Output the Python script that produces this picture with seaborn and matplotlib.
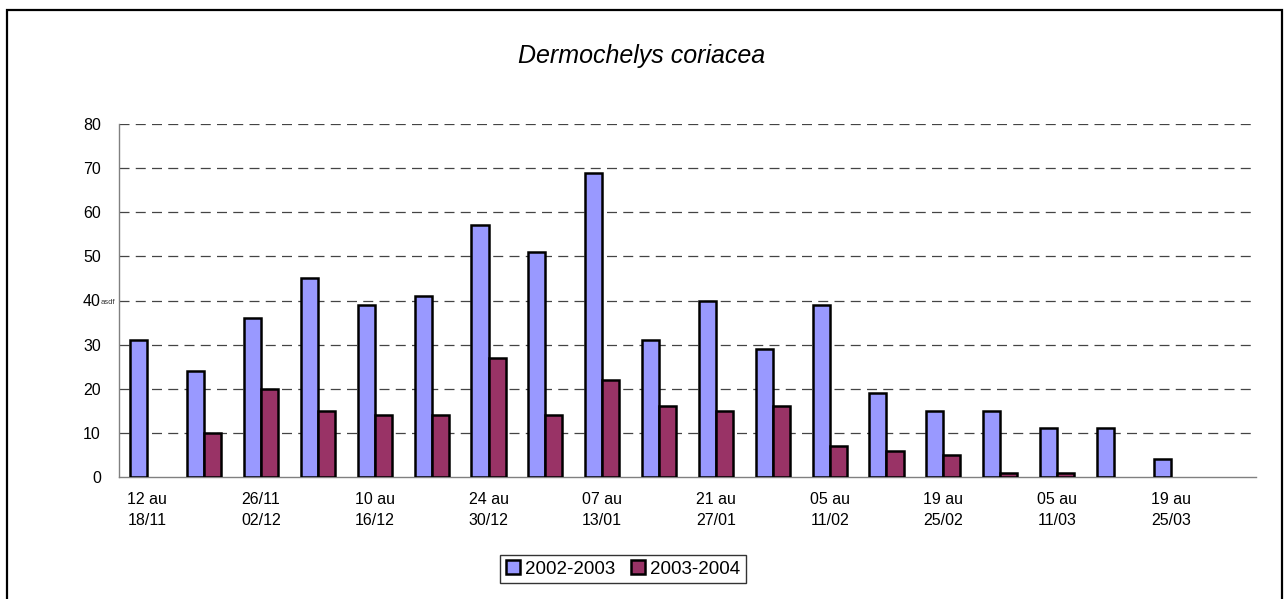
import matplotlib
matplotlib.use('Agg')
import matplotlib.pyplot as plt
from matplotlib.patches import Rectangle
import seaborn as sns
import pandas as pd
import numpy as np

# weeks (one category each), two seasons
semaines = ['12 au 18/11', '19 au 25/11', '26/11 02/12', '03 au 09/12', '10 au 16/12',
            '17 au 23/12', '24 au 30/12', '31/12 06/01', '07 au 13/01', '14 au 20/01',
            '21 au 27/01', '28/01 04/02', '05 au 11/02', '12 au 18/02', '19 au 25/02',
            '26/02 04/03', '05 au 11/03', '12 au 18/03', '19 au 25/03', '26/03 01/04']
tick_labels = ['12 au\n18/11', '', '26/11\n02/12', '', '10 au\n16/12', '', '24 au\n30/12', '',
               '07 au\n13/01', '', '21 au\n27/01', '', '05 au\n11/02', '', '19 au\n25/02', '',
               '05 au\n11/03', '', '19 au\n25/03', '']
saison_1 = [31, 24, 36, 45, 39, 41, 57, 51, 69, 31, 40, 29, 39, 19, 15, 15, 11, 11, 4, np.nan]
saison_2 = [np.nan, 10, 20, 15, 14, 14, 27, 14, 22, 16, 15, 16, 7, 6, 5, 1, 1, np.nan, np.nan, np.nan]
saisons = ['2002-2003', '2003-2004']
couleurs = ['#9999FF', '#993366']

df = pd.DataFrame({
    'semaine': semaines * 2,
    'nombre': saison_1 + saison_2,
    'saison': [saisons[0]] * len(semaines) + [saisons[1]] * len(semaines),
})

sns.set_style('white')
plt.rcParams['font.family'] = ['Liberation Sans', 'DejaVu Sans']
plt.rcParams['text.color'] = 'black'
plt.rcParams['xtick.labelcolor'] = 'black'
plt.rcParams['ytick.labelcolor'] = 'black'

fig = plt.figure(figsize=(12.88, 5.99), dpi=100)
ax = fig.add_axes([119 / 1288, 1 - 477 / 599, (1256 - 119) / 1288, (477 - 124) / 599])

sns.barplot(data=df, x='semaine', y='nombre', hue='saison', order=semaines,
            hue_order=saisons, palette=couleurs, saturation=1, width=0.6,
            edgecolor='black', linewidth=1.8, errorbar=None, ax=ax, zorder=3)

ax.set_xlim(-0.5, len(semaines) - 0.5)
ax.set_ylim(0, 80)
ax.set_yticks(range(0, 81, 10))
ax.set_xticks(range(len(semaines)))
ax.set_xticklabels(tick_labels, fontsize=11.5, linespacing=1.45)
ax.set_xticks(np.arange(-0.5, len(semaines), 1), minor=True)
ax.tick_params(axis='x', which='major', length=0, pad=11, labelcolor='black')
ax.tick_params(axis='x', which='minor', length=5, width=1, color='#808080', direction='out')
ax.tick_params(axis='y', length=5, width=1, color='#808080', direction='out', pad=8,
               labelsize=11.5, labelcolor='black')
ax.set_xlabel('')
ax.set_ylabel('')

for v in range(10, 81, 10):
    ax.axhline(v, color='#444444', linewidth=0.9, linestyle=(0, (8, 5)), zorder=1)

for s in ['top', 'right']:
    ax.spines[s].set_visible(False)
for s in ['left', 'bottom']:
    ax.spines[s].set_color('#808080')
    ax.spines[s].set_linewidth(1)

leg = ax.legend(loc='center', bbox_to_anchor=(623 / 1288, 1 - 569 / 599),
                bbox_transform=fig.transFigure, ncol=2, fontsize=13.5, frameon=True,
                fancybox=False, handlelength=0.75, handleheight=0.75, handletextpad=0.3,
                columnspacing=0.8, borderpad=0.3, title=None)
leg.get_frame().set_edgecolor('black')
leg.get_frame().set_linewidth(1)
for t in leg.get_texts():
    t.set_color('black')

fig.text(642 / 1288, 1 - 56 / 599, 'Dermochelys coriacea', ha='center', va='center',
         fontsize=18, fontstyle='italic', color='black')
fig.text(101 / 1288, 1 - 303 / 599, 'asdf', ha='left', va='center', fontsize=5.5, color='#333333')

fig.patches.append(Rectangle((7 / 1288, -0.05), 1275 / 1288, 1.05 - 10 / 599,
                             transform=fig.transFigure, fill=False, edgecolor='black',
                             linewidth=1.6))

fig.savefig('out.png', dpi=100)
